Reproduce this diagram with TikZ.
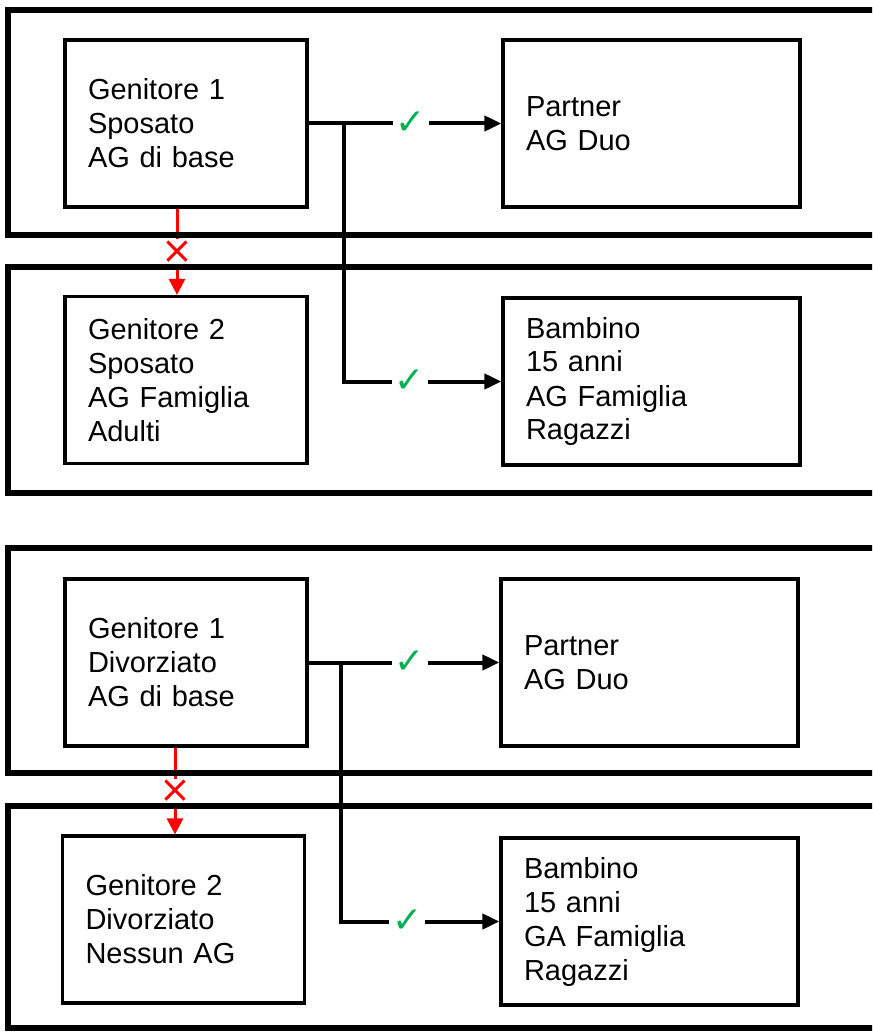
\documentclass[tikz,border=0pt]{standalone}
\usepackage{fontspec}
\setmainfont{Liberation Sans}
\newfontfamily\symfont{DejaVu Sans}
\usetikzlibrary{arrows.meta}
\definecolor{okgreen}{RGB}{0,176,80}
\definecolor{nored}{RGB}{255,0,0}

\begin{document}
\begin{tikzpicture}[x=0.5pt, y=-0.5pt,
    member/.style={draw, line width=1.6pt, inner xsep=11.5pt, align=left,
      text width=#1, minimum height=83.5pt,
      font=\fontsize{14.5}{17}\selectfont},
    frame/.style={line width=2.6pt},
    link/.style={line width=2pt, -{Triangle[length=8.5pt,width=7.5pt]}},
    nolink/.style={nored, line width=1.5pt, -{Triangle[length=8pt,width=8pt]}},
    okmark/.style={fill=white, inner sep=1.5pt, text=okgreen,
      font=\symfont\fontsize{18}{18}\selectfont},
    nomark/.style={fill=white, inner sep=0.5pt, text=nored,
      font=\symfont\fontsize{19}{19}\selectfont}]

\useasboundingbox (0,0) rectangle (872,1032);
\clip (0,0) rectangle (872,1032);

% sposati
\node[member=98pt] (g1a) at (186,123.5) {Genitore 1\\Sposato\\AG di base};
\node[member=125.5pt] (pa) at (651.5,123.5) {Partner\\AG Duo};
\node[member=98pt] (g2a) at (186,380) {Genitore 2\\Sposato\\AG Famiglia\\Adulti};
\node[member=125.5pt] (ba) at (651.5,381.5) {Bambino\\15 anni\\AG Famiglia\\Ragazzi};

\coordinate (ja) at ([xshift=17.5pt]g1a.east);
\draw[link] (g1a.east) -- node[okmark, pos=0.53] {✓} (pa.west);
\draw[link] (ja) |- node[okmark, pos=0.71] {✓} (ba.west);
\draw[nolink] ([xshift=-4.5pt]g1a.south) -- node[nomark] {×}
  ([xshift=-4.5pt]g1a.south |- g2a.north);

% divorziati
\node[member=98pt] (g1b) at (186,662.5) {Genitore 1\\Divorziato\\AG di base};
\node[member=125.5pt] (pb) at (649.5,662.5) {Partner\\AG Duo};
\node[member=98pt] (g2b) at (183.5,919.5) {Genitore 2\\Divorziato\\Nessun AG};
\node[member=125.5pt] (bb) at (649.5,921.5) {Bambino\\15 anni\\GA Famiglia\\Ragazzi};

\coordinate (jb) at ([xshift=16pt]g1b.east);
\draw[link] (g1b.east) -- node[okmark, pos=0.53] {✓} (pb.west);
\draw[link] (jb) |- node[okmark, pos=0.71] {✓} (bb.west);
\draw[nolink] ([xshift=-5.5pt]g1b.south) -- node[nomark] {×}
  ([xshift=-5.5pt]g1b.south |- g2b.north);

% riquadri
\draw[frame] (8,10) rectangle (900,235);
\draw[frame] (8,267) rectangle (900,493);
\draw[frame] (8,548) rectangle (900,773);
\draw[frame] (8,806) rectangle (900,1028);

\end{tikzpicture}
\end{document}
